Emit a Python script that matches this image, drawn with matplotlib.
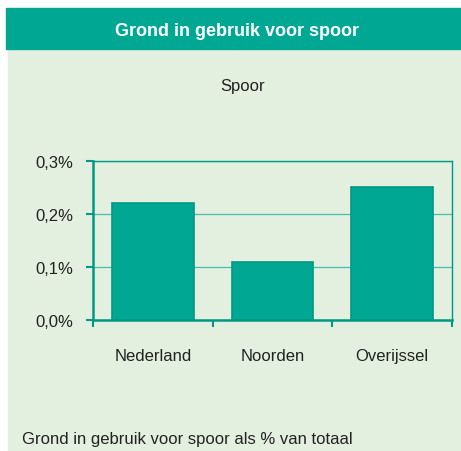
"""Grond in gebruik voor spoor - bar chart."""

import matplotlib.pyplot as plt
from matplotlib.patches import Rectangle
from matplotlib.ticker import FuncFormatter, FixedLocator

plt.rcParams["font.family"] = ["Liberation Sans", "DejaVu Sans"]

regions = ["Nederland", "Noorden", "Overijssel"]
share = [0.22, 0.11, 0.25]  # % of total land
y_ticks = [0.0, 0.1, 0.2, 0.3]

TEAL = "#00a893"
TEAL_DARK = "#009884"
BG = "#e3efdf"
TXT = "#222222"

fig = plt.figure(figsize=(4.61, 4.52), dpi=100, facecolor="white")
W, H = 461, 452

# header band and light green panel (pixel coords -> figure fraction)
fig.patches.append(Rectangle((8 / W, 0), 1 - 8 / W, 1 - 51 / H,
                             transform=fig.transFigure, color=BG, zorder=-2))
fig.patches.append(Rectangle((6 / W, 1 - 50 / H), 1 - 6 / W, 41 / H,
                             transform=fig.transFigure, color=TEAL, zorder=-2))
fig.text(237 / W, 1 - 31 / H, "Grond in gebruik voor spoor", color="white",
         fontsize=13, fontweight="bold", ha="center", va="center")
fig.text(243 / W, 1 - 87 / H, "Spoor", color=TXT, fontsize=12,
         ha="center", va="center")
fig.text(22 / W, 1 - 440 / H, "Grond in gebruik voor spoor als % van totaal",
         color=TXT, fontsize=12, ha="left", va="center")

ax = fig.add_axes([93 / W, 1 - 321 / H, (452 - 93) / W, (321 - 161.7) / H])
ax.set_zorder(1)
ax.set_facecolor("none")
x = range(len(regions))
ax.bar(x, share, width=0.68, color=TEAL, edgecolor=TEAL_DARK, linewidth=1.2,
       zorder=3)

ax.set_xlim(-0.5, len(regions) - 0.5)
ax.set_ylim(0, 0.3)
ax.set_yticks(y_ticks)
ax.yaxis.set_major_formatter(FuncFormatter(lambda v, _: f"{v:.1f}%".replace(".", ",")))
ax.set_xticks(list(x))
ax.set_xticklabels(regions)
ax.xaxis.set_minor_locator(FixedLocator([i - 0.5 for i in range(len(regions) + 1)]))

ax.grid(axis="y", color="#45bfae", linewidth=0.9, zorder=1)
for side in ["left", "bottom"]:
    ax.spines[side].set_color(TEAL_DARK)
    ax.spines[side].set_linewidth(1.8)
for side in ["top", "right"]:
    ax.spines[side].set_color(TEAL_DARK)
    ax.spines[side].set_linewidth(1.0)

ax.tick_params(axis="y", length=5, width=1.5, color=TEAL_DARK, pad=9,
               labelsize=12, labelcolor=TXT)
ax.tick_params(axis="x", which="major", length=0, pad=20, labelsize=12,
               labelcolor=TXT)
ax.tick_params(axis="x", which="minor", length=5, width=1.5, color=TEAL_DARK)

fig.savefig("out.png", dpi=100, facecolor=fig.get_facecolor())
